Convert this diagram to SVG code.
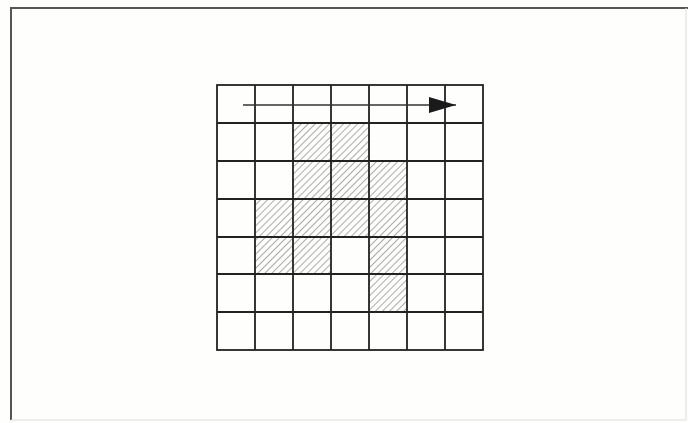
<svg xmlns="http://www.w3.org/2000/svg" width="688" height="423" viewBox="0 0 688 423">
<style>
.grid{stroke:#222;stroke-width:1.8;fill:none}
.hatch{fill:url(#h)}
.frame{fill:none;stroke:#555;stroke-width:2}
</style>
<defs>
<pattern id="h" patternUnits="userSpaceOnUse" width="5" height="5" patternTransform="rotate(45)">
<line x1="0" y1="0" x2="0" y2="5" stroke="#555" stroke-width="1"/>
</pattern>
<marker id="arr" markerWidth="28" markerHeight="18" refX="27" refY="8" orient="auto" markerUnits="userSpaceOnUse">
<path d="M0,0 L27,8 L0,16 Z" fill="#1a1a1a"/>
</marker>
</defs>
<rect width="688" height="423" fill="#fefefc"/>
<g id="frame">
<path class="frame" d="M11,420 L11,8 L688,8"/>
<path d="M686,8 L686,420 L11,420" fill="none" stroke="#ddd" stroke-width="1"/>
</g>
<g id="cells">
<rect class="hatch" x="293" y="123" width="76" height="38"/>
<rect class="hatch" x="293" y="161" width="114" height="38"/>
<rect class="hatch" x="255" y="199" width="152" height="38"/>
<rect class="hatch" x="255" y="237" width="76" height="38"/>
<rect class="hatch" x="369" y="237" width="38" height="75"/>
</g>
<g id="grid">
<rect class="grid" x="217" y="85" width="266" height="265"/>
<path class="grid" d="M255,85V350M293,85V350M331,85V350M369,85V350M407,85V350M445,85V350M217,123H483M217,161H483M217,199H483M217,237H483M217,274H483M217,312H483"/>
</g>
<g id="connectors">
<line x1="243" y1="105" x2="456" y2="105" stroke="#333" stroke-width="1.3" marker-end="url(#arr)"/>
</g>
</svg>
